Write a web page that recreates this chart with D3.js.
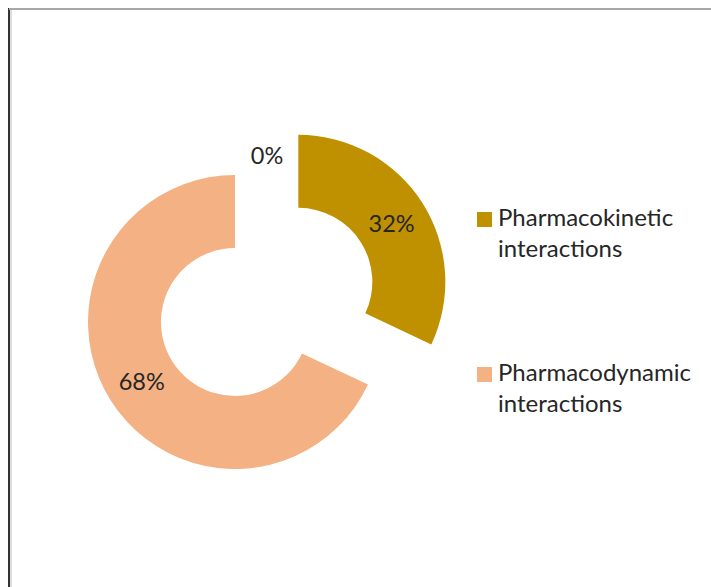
<!DOCTYPE html>
<html>
<head>
<meta charset="utf-8">
<script src="https://cdn.jsdelivr.net/npm/d3@7"></script>
<style>
  body { margin: 0; background: #fff; }
  text { font-family: Lato, "Liberation Sans", sans-serif; fill: #262626; }
</style>
</head>
<body>
<svg id="chart" width="711" height="587"></svg>
<script>
const categories = ['Pharmacokinetic interactions', 'Pharmacodynamic interactions', ''];
const values = [32, 68, 0];
const legendLines = [['Pharmacokinetic', 'interactions'], ['Pharmacodynamic', 'interactions']];
const colors = ['#bf9000', '#f4b183', '#a5a5a5'];

const width = 711;
const height = 587;
const cx = 235;
const cy = 322;
const outerR = 147;
const innerR = 74;
const explode = [75, 0, 0];

const svg = d3.select('#chart');

// frame left over from the screenshot
svg.append('line')
  .attr('x1', 9).attr('x2', 9).attr('y1', 8).attr('y2', height)
  .attr('stroke', '#333').attr('stroke-width', 2);
svg.append('line')
  .attr('x1', 11).attr('x2', 11).attr('y1', 9).attr('y2', height)
  .attr('stroke', '#bbb').attr('stroke-width', 1);
svg.append('line')
  .attr('x1', 9).attr('x2', width).attr('y1', 9).attr('y2', 9)
  .attr('stroke', '#a8a8a8').attr('stroke-width', 2);

const data = categories.map((name, i) => ({ name, value: values[i], i }));

const pie = d3.pie()
  .sort(null)
  .value((d) => d.value);

const arc = d3.arc()
  .innerRadius(innerR)
  .outerRadius(outerR);

const arcs = pie(data);

const offset = (a, dist) => {
  const mid = (a.startAngle + a.endAngle) / 2;
  return [Math.sin(mid) * dist, -Math.cos(mid) * dist];
};

const g = svg.append('g')
  .attr('transform', `translate(${cx}, ${cy})`);

const slices = g.selectAll('g.slice')
  .data(arcs)
  .enter()
  .append('g')
  .attr('class', 'slice')
  .attr('transform', (d) => {
    const [dx, dy] = offset(d, explode[d.data.i]);
    return `translate(${dx}, ${dy})`;
  });

slices.filter((d) => d.data.value > 0)
  .append('path')
  .attr('d', arc)
  .attr('fill', (d) => colors[d.data.i]);

// zero slice label sits outside the ring, nudged to the right like the original
slices.append('text')
  .attr('text-anchor', 'middle')
  .attr('dominant-baseline', 'central')
  .attr('font-size', 23.5)
  .attr('transform', (d) => {
    if (d.data.value === 0) {
      const [x, y] = offset(d, outerR + 20);
      return `translate(${x + 32}, ${y})`;
    }
    const [x, y] = arc.centroid(d);
    return `translate(${x}, ${y})`;
  })
  .text((d) => `${d.data.value}%`);

// legend
const legend = svg.append('g')
  .attr('transform', 'translate(477, 212)');

const items = legend.selectAll('g')
  .data(legendLines)
  .enter()
  .append('g')
  .attr('transform', (d, i) => `translate(0, ${i * 155})`);

items.append('rect')
  .attr('width', 15)
  .attr('height', 15)
  .attr('fill', (d, i) => colors[i]);

items.append('text')
  .attr('x', 21)
  .attr('y', 14)
  .attr('font-size', 24)
  .selectAll('tspan')
  .data((d) => d)
  .enter()
  .append('tspan')
  .attr('x', 21)
  .attr('dy', (d, j) => (j === 0 ? 0 : 31))
  .text((d) => d);
</script>
</body>
</html>
